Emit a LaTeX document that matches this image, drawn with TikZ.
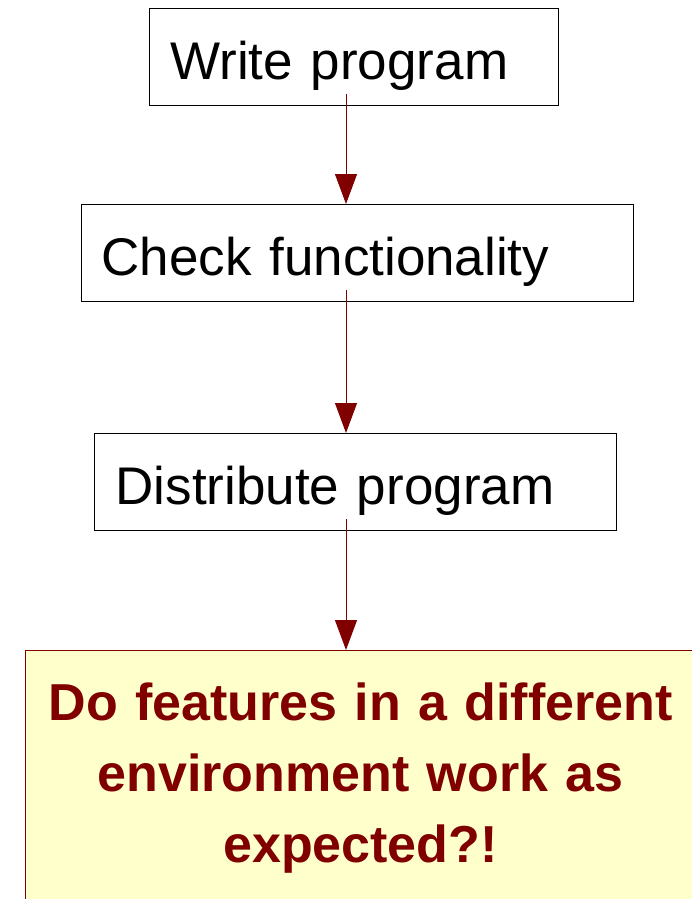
\documentclass[tikz,border=0pt]{standalone}
\usepackage{fontspec}
\setmainfont{Liberation Sans}
\usetikzlibrary{positioning, calc, arrows.meta}
\definecolor{maroon}{HTML}{800000}
\definecolor{paleyellow}{HTML}{FFFFCC}

\begin{document}
\begin{tikzpicture}[
    x=1pt, y=-1pt,
    stepbox/.style   = {rectangle, draw=black, line width=1pt, anchor=north west,
                        inner xsep=21pt, inner ysep=0pt, align=left,
                        text height=71pt, text depth=26pt,
                        font=\fontsize{53}{64}\selectfont},
    notebox/.style   = {rectangle, draw=maroon, line width=1pt, fill=paleyellow,
                        anchor=north west, inner xsep=0pt, inner ysep=0pt,
                        align=center, text width=670pt,
                        text height=70pt, text depth=250pt,
                        text=maroon, font=\fontsize{52}{71}\selectfont\bfseries},
    flow/.style      = {line width=1pt, draw=maroon,
                        -{Triangle[length=30pt, width=22pt]}},
]

\useasboundingbox (0,0) rectangle (692,899);

%% ============================================================
%% LAYOUT (top to bottom)
%% ============================================================

\node[stepbox, text width=367pt] (write) at (149, 8)   {Write program};
\node[stepbox, text width=512pt, inner xsep=20pt]
                                 (check) at (81, 204)  {Check functionality};
\node[stepbox, text width=480pt] (distr) at (94, 433)  {Distribute program};
\node[notebox]                   (doubt) at (25, 650)
    {Do features in a different\\environment work as\\expected?!};

%% ============================================================
%% CONNECTIONS
%% ============================================================

\coordinate (spine) at (346, 0);
\draw[flow] ([yshift=12pt]write.south -| spine) -- (check.north -| spine);
\draw[flow] ([yshift=12pt]check.south -| spine) -- (distr.north -| spine);
\draw[flow] ([yshift=12pt]distr.south -| spine) -- (doubt.north -| spine);

\end{tikzpicture}
\end{document}
